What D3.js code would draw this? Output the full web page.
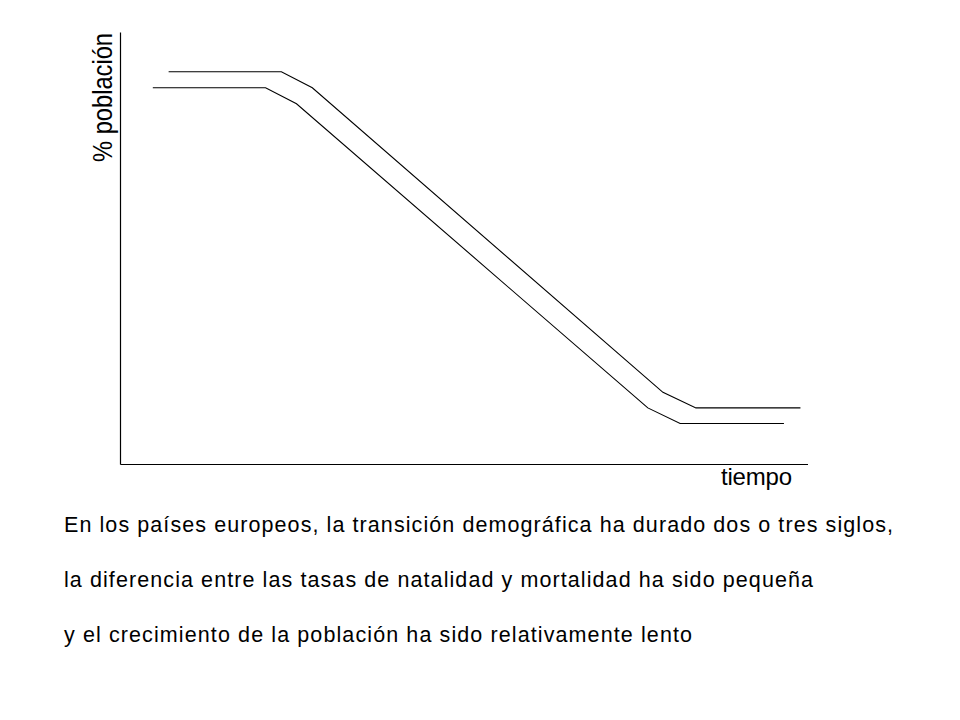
<!DOCTYPE html>
<html>
<head>
<meta charset="utf-8">
<script src="https://cdn.jsdelivr.net/npm/d3@7"></script>
<style>
  body { margin: 0; background: #fff; }
  svg { display: block; }
</style>
</head>
<body>
<div id="chart"></div>
<script>
// tiempo (0-100, arbitrary units) for each vertex of the two curves
var tiempoNat = [7.0, 23.4, 27.9, 78.9, 83.7, 98.9];
var natalidad = [90.9, 90.9, 87.2, 16.7, 13.1, 13.1];
var tiempoMort = [4.7, 21.1, 25.6, 76.7, 81.4, 96.5];
var mortalidad = [87.2, 87.2, 83.5, 13.1, 9.5, 9.5];

var ejeY = "% población";
var ejeX = "tiempo";
var texto = [
    "En los países europeos, la transición demográfica ha durado dos o tres siglos,",
    "la diferencia entre las tasas de natalidad y mortalidad ha sido pequeña",
    "y el crecimiento de la población ha sido relativamente lento"
];

function run() {
    var w = 960, h = 720;
    var font = "'Liberation Sans', Arial, sans-serif";
    var svg = d3.select("#chart")
        .append("svg")
        .attr("width", w)
        .attr("height", h);

    var xScale = d3.scaleLinear().domain([0, 100]).range([120.5, 808]);
    var yScale = d3.scaleLinear().domain([0, 100]).range([464.5, 32.5]);

    // axes: only the bare lines, no ticks
    svg.append("line")
        .attr("x1", xScale(0)).attr("y1", yScale(0))
        .attr("x2", xScale(0)).attr("y2", yScale(100))
        .attr("stroke", "#000").attr("stroke-width", 1.2);
    svg.append("line")
        .attr("x1", xScale(0)).attr("y1", yScale(0))
        .attr("x2", xScale(100)).attr("y2", yScale(0))
        .attr("stroke", "#000").attr("stroke-width", 1.2);

    var line = d3.line()
        .x(function(d) { return xScale(d[0]); })
        .y(function(d) { return yScale(d[1]); });

    var series = [
        d3.zip(tiempoNat, natalidad),
        d3.zip(tiempoMort, mortalidad)
    ];
    svg.selectAll("path.curve")
        .data(series)
        .enter()
        .append("path")
        .attr("class", "curve")
        .attr("d", line)
        .attr("fill", "none")
        .attr("stroke", "#000")
        .attr("stroke-width", 1.1);

    // axis labels
    svg.append("text")
        .attr("transform", "translate(112,97.5) rotate(-90)")
        .attr("text-anchor", "middle")
        .attr("font-family", font)
        .attr("font-size", 27)
        .attr("textLength", 129)
        .attr("lengthAdjust", "spacingAndGlyphs")
        .attr("fill", "#000")
        .text(ejeY);
    svg.append("text")
        .attr("x", 721)
        .attr("y", 485)
        .attr("font-family", font)
        .attr("font-size", 24)
        .attr("textLength", 71)
        .attr("fill", "#000")
        .text(ejeX);

    // paragraph below the chart
    var ends = [893, 813, 692];
    svg.selectAll("text.nota")
        .data(texto)
        .enter()
        .append("text")
        .attr("class", "nota")
        .attr("x", 64)
        .attr("y", function(d, i) { return 532 + i * 55; })
        .attr("font-family", font)
        .attr("font-size", 21.5)
        .attr("textLength", function(d, i) { return ends[i] - 64; })
        .attr("lengthAdjust", "spacing")
        .attr("fill", "#000")
        .text(function(d) { return d; });
}
window.addEventListener('load', run);
</script>
</body>
</html>
